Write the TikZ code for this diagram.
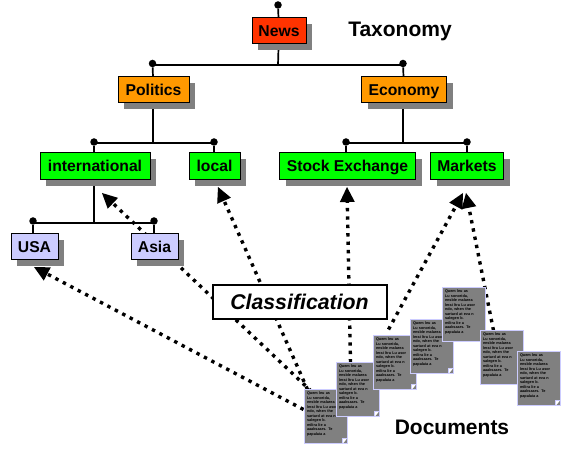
\documentclass[tikz,border=0pt]{standalone}
\usepackage{fontspec}
\setmainfont{Liberation Sans}
\usetikzlibrary{shadows,backgrounds,arrows.meta}
\definecolor{newsc}{HTML}{FF3300}
\definecolor{polc}{HTML}{FF9900}
\definecolor{leafc}{HTML}{00FF00}
\definecolor{countryc}{HTML}{CCCCFF}
\definecolor{docc}{HTML}{808080}
\tikzset{
  x=1pt,y=-1pt,
  topic/.style={draw=black,line width=1pt,inner sep=0pt,minimum height=26pt,text=black,
    text height=11pt,text depth=0pt,
    font=\bfseries\fontsize{15.7}{17}\selectfont,
    general shadow={fill=docc,draw=none,shadow xshift=6pt,shadow yshift=-6pt}},
  knob/.style={circle,fill=black,inner sep=0pt,minimum size=7.5pt},
  tree/.style={line width=1.7pt,black},
  link/.style={line width=3.4pt,dash pattern=on 3.4pt off 5pt,black,
    -{Triangle[length=15pt,width=15pt,line width=0pt]}},
  paper/.style={draw=countryc,line width=1pt,fill=docc,inner xsep=3pt,inner ysep=1pt,minimum width=43pt,minimum height=54pt,
    text width=37pt,align=left,anchor=north west,font=\bfseries\fontsize{3.8}{4.5}\selectfont},
  title/.style={inner sep=0pt,font=\bfseries\fontsize{21}{23}\selectfont}
}
\newcommand{\papertext}{Quem leu as\\Lu sonorida,\\ensble malarea\\lerai ltra Lu asor\\ndo, when the\\sartard at eva n\\salegen b.\\milira lie a\\aaaksaars. Te\\papalaia a\\[2pt]\mbox{}}
\newcommand{\paper}[3]{%
  \node[paper] (#1) at (#2,#3) {\papertext};
  \fill[white] ([xshift=-5pt,yshift=0.5pt]#1.south east) -- ([yshift=6pt,xshift=-0.5pt]#1.south east) -- ([xshift=-5pt,yshift=6pt]#1.south east) -- cycle;
  \draw[countryc,line width=0.7pt] ([xshift=-5pt,yshift=0.5pt]#1.south east) -- ([xshift=-5pt,yshift=6pt]#1.south east) -- ([yshift=6pt,xshift=-0.5pt]#1.south east);
}
\begin{document}
\begin{tikzpicture}
\useasboundingbox (0,0) rectangle (566,449);

% topics
\node[topic,fill=newsc,minimum width=54pt] (news) at (279,31) {News};
\node[topic,fill=polc,minimum width=71pt] (politics) at (153.5,90) {Politics};
\node[topic,fill=polc,minimum width=85pt] (economy) at (404,90) {Economy};
\node[topic,fill=leafc,minimum width=110pt,minimum height=27pt] (international) at (95,166.5) {international};
\node[topic,fill=leafc,minimum width=51pt,minimum height=27pt] (local) at (214.5,166.5) {local};
\node[topic,fill=leafc,minimum width=136pt,minimum height=27pt] (stock) at (347.5,166.5) {Stock Exchange};
\node[topic,fill=leafc,minimum width=73pt,minimum height=27pt] (markets) at (467,166.5) {Markets};
\node[topic,fill=countryc,minimum width=47pt] (usa) at (34.5,247) {USA};
\node[topic,fill=countryc,minimum width=47pt] (asia) at (154.5,247) {Asia};

% knobs
\node[knob] (kn) at (278,5) {};
\node[knob] (kp) at (152.5,63.5) {};
\node[knob] (ke) at (403,63.5) {};
\node[knob] (ki) at (94,142) {};
\node[knob] (kl) at (214,142) {};
\node[knob] (ks) at (346,142) {};
\node[knob] (km) at (467,142) {};
\node[knob] (ku) at (33,221) {};
\node[knob] (ka) at (154,221) {};
\coordinate (jn) at (278,65);
\coordinate (jp) at (153,143);
\coordinate (je) at (403,143);
\coordinate (ji) at (94,223);

% documents
\paper{d1}{303.5}{389.5}
\paper{d2}{335.5}{362.5}
\paper{d3}{372.5}{335.5}
\paper{d4}{409.5}{319.5}
\paper{d5}{441.5}{287.5}
\paper{d6}{479.5}{330.5}
\paper{d7}{516.5}{351.5}

\node[draw=black,line width=2pt,fill=white,inner sep=0pt,minimum width=174pt,minimum height=34pt,
  font=\bfseries\itshape\fontsize{21.3}{23}\selectfont] (classif) at (299.5,302) {Classification};
\node[title] (taxonomy) at (400,31) {Taxonomy};
\node[title] (documents) at (452,427) {Documents};

\coordinate (tusa) at (34,267);
\coordinate (tint) at (102,193);
\coordinate (tloc) at (218,187);
\coordinate (tsto) at (347,187);
\coordinate (tma) at (463,193);
\coordinate (tmb) at (466,193);

\begin{scope}[on background layer]
  \draw[tree] (kn) -- (news);
  \draw[tree] (news) -- (jn);
  \draw[tree] (kp |- jn) -- (ke |- jn);
  \draw[tree] (kp) -- (politics);
  \draw[tree] (ke) -- (economy);
  \draw[tree] (politics.south -| jp) -- (jp);
  \draw[tree] (economy.south -| je) -- (je);
  \draw[tree] (ki |- jp) -- (kl |- jp);
  \draw[tree] (ks |- je) -- (km |- je);
  \draw[tree] (ki) -- (international.north -| ki);
  \draw[tree] (kl) -- (local.north -| kl);
  \draw[tree] (ks) -- (stock.north -| ks);
  \draw[tree] (km) -- (markets.north -| km);
  \draw[tree] (international.south -| ji) -- (ji);
  \draw[tree] (ku |- ji) -- (ka |- ji);
  \draw[tree] (ku) -- (usa.north -| ku);
  \draw[tree] (ka) -- (asia.north -| ka);
  \draw[link] (d1.north west) ++(0,20) -- (tusa);
  \draw[link] (d1.north west) ++(8,2) -- (tint);
  \draw[link] (d1.north west) ++(4,0) -- (tloc);
  \draw[link] (d2.north west) ++(15,0) -- (tsto);
  \draw[link] (d3.north west) ++(16,-6) -- (tma);
  \draw[link] (d6.north west) ++(14,0) -- (tmb);
\end{scope}
\end{tikzpicture}
\end{document}
